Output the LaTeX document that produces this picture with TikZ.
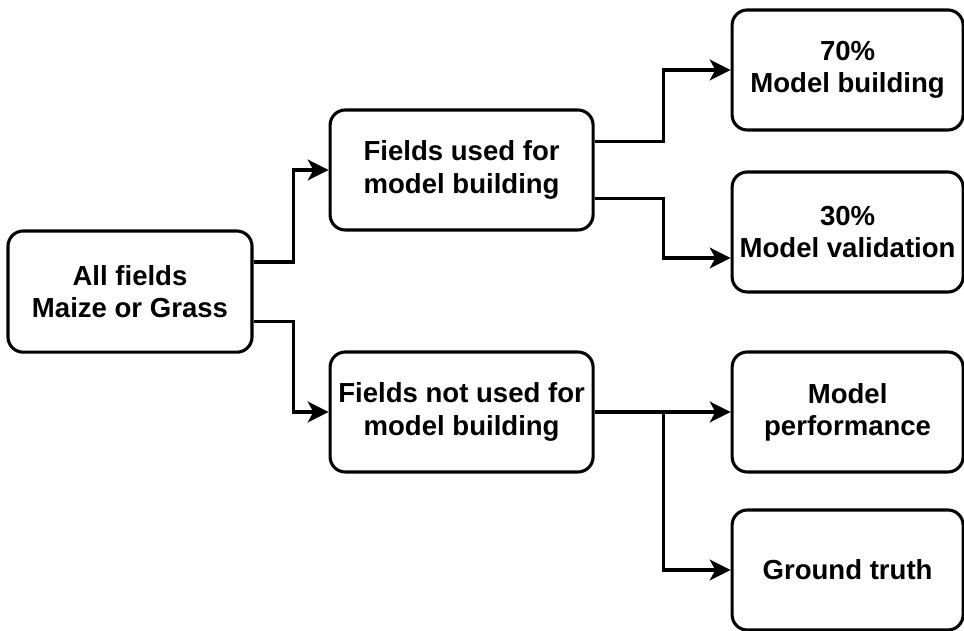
\documentclass[tikz,border=0pt]{standalone}
\usepackage{fontspec}
\setmainfont{Liberation Sans}
\usepackage{tikz}
\usetikzlibrary{positioning, arrows.meta}

\begin{document}
\begin{tikzpicture}[
  bx/.style={draw=black, line width=2.2pt, rounded corners=0.38cm, fill=white,
             minimum width=6.575cm, minimum height=3cm, align=center,
             inner sep=2pt,
             font=\fontsize{19.6pt}{22.9pt}\selectfont\bfseries},
  rbx/.style={bx, minimum width=5.775cm},
  arr/.style={line width=2.2pt, -{Stealth[length=0.52cm, width=0.52cm, inset=0.14cm]}},
]

\useasboundingbox (0,0) rectangle (24.1,-15.775);

\node[bx, minimum width=6.1cm, minimum height=3.03cm] (all) at (3.25,-7.29) {All fields\\Maize or Grass};

\node[bx] (used) at (11.54,-4.25) {Fields used for\\model building};
\node[bx] (notused) at (11.54,-10.3) {Fields not used for\\model building};

\node[rbx] (build) at (21.19,-1.75) {70\%\\Model building};
\node[rbx] (valid) at (21.19,-5.8) {30\%\\Model validation};
\node[rbx] (perf) at (21.19,-10.3) {Model\\performance};
\node[rbx] (truth) at (21.19,-14.25) {Ground truth};

\draw[arr] ([yshift=0.74cm]all.east) -- ++(1.0,0) |- (used.west);
\draw[arr] ([yshift=-0.74cm]all.east) -- ++(1.0,0) |- (notused.west);

\draw[arr] ([yshift=0.72cm]used.east) -- ++(1.725,0) |- (build.west);
\draw[arr] ([yshift=-0.72cm]used.east) -- ++(1.725,0) |- ([yshift=-0.65cm]valid.west);

\draw[arr] (notused.east) -- (perf.west);
\draw[arr] ([xshift=1.725cm]notused.east) |- (truth.west);

\end{tikzpicture}
\end{document}
